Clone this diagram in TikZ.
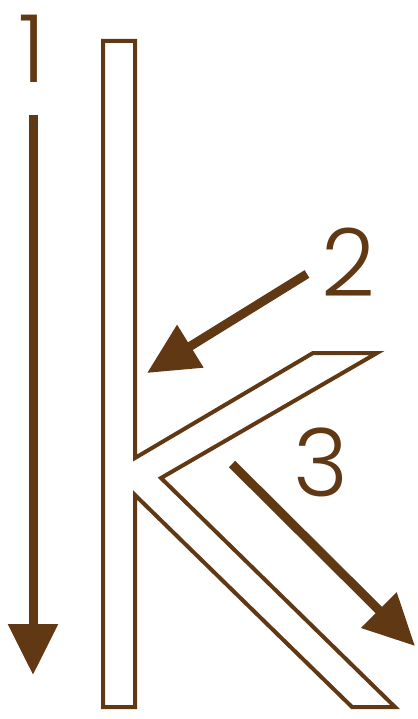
\documentclass[tikz,border=0pt]{standalone}
\usepackage{fontspec}
\newfontfamily\numfont{Poppins Light}
\usetikzlibrary{arrows.meta}
\definecolor{kbrown}{RGB}{96,56,19}
\tikzset{
  outline/.style={draw=kbrown, line width=4pt, line join=miter},
  bigarrow/.style={draw=kbrown, line width=9pt, -{Triangle[length=51pt,width=48pt]}},
  digit/.style={text=kbrown, font=\numfont\fontsize{94}{94}\selectfont, inner sep=0pt}
}
\begin{document}
\begin{tikzpicture}[x=1pt,y=-1pt]
\useasboundingbox (0,0) rectangle (417,719);
% letter k
\draw[outline] (103,41) -- (135,41) -- (135,458) -- (313,353) -- (377,353)
  -- (161,478) -- (395,707) -- (352,707) -- (135,495) -- (135,707)
  -- (103,707) -- cycle;
% digits
\node[digit] (n1) at (32,49) {1};
\node[digit] (n2) at (348,262) {2};
\node[digit] (n3) at (321,462) {3};
% arrows
\coordinate (a1s) at (33,115);
\coordinate (a1e) at (33,675);
\coordinate (a2s) at (307,274);
\coordinate (a2e) at (147,373);
\coordinate (a3s) at (232,464);
\coordinate (a3e) at (415,646);
\draw[bigarrow] (a1s) -- (a1e);
\draw[bigarrow] (a2s) -- (a2e);
\draw[bigarrow] (a3s) -- (a3e);
\end{tikzpicture}
\end{document}
